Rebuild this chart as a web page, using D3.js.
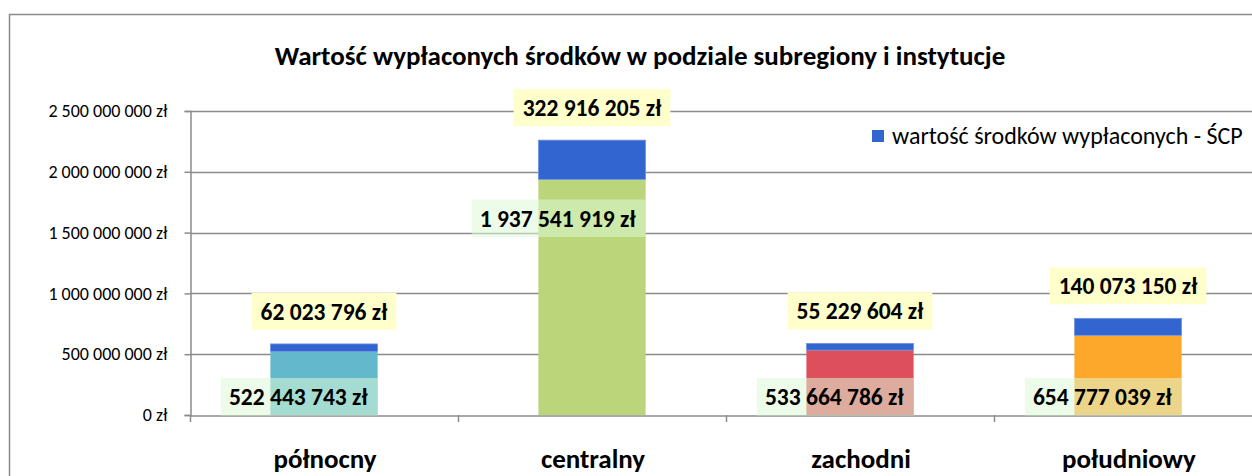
<!DOCTYPE html>
<html><head><meta charset="utf-8">
<script src="https://cdn.jsdelivr.net/npm/d3@7/dist/d3.min.js"></script>
<style>
html,body{margin:0;padding:0;background:#fff;}
svg{display:block;font-family:Carlito,Lato,"Liberation Sans",sans-serif;}
</style></head>
<body>
<svg id="chart" width="1252" height="476"></svg>
<script>
const title = "Wartość wypłaconych środków w podziale subregiony i instytucje";
const categories = ["północny", "centralny", "zachodni", "południowy"];
const baseValues = [522443743, 1937541919, 533664786, 654777039];
const scpValues = [62023796, 322916205, 55229604, 140073150];
const legendLabel = "wartość środków wypłaconych - ŚCP";
const yTicks = [0, 500000000, 1000000000, 1500000000, 2000000000, 2500000000];
const baseColors = ["#63b8cc", "#bbd57a", "#dd4f5c", "#fea82b"];
const scpColor = "#3265cf";
// where the (manually placed) base labels sit, as a value on the y axis (box centre)
const baseLabelAt = [150000000, 1620000000, 150000000, 145000000];

const fmt = v => {
  const s = String(Math.round(v));
  return s.replace(/\B(?=(\d{3})+(?!\d))/g, " ") + " zł";
};

const svg = d3.select("#chart");
const m = {left: 190};
const plotRight = 1262;

// outer frame
svg.append("rect").attr("x", 9.5).attr("y", 14.5).attr("width", 1300).attr("height", 600)
  .attr("fill", "none").attr("stroke", "#8c8c8c").attr("stroke-width", 1.5);

const x = d3.scaleBand().domain(categories).range([m.left, plotRight]).paddingInner(0.6).paddingOuter(0.3);
const xCat = d3.scaleBand().domain(categories).range([m.left, plotRight]);
const y = d3.scaleLinear().domain([0, 2500000000]).range([415, 111]);

// gridlines
svg.append("g").selectAll("line").data(yTicks.slice(1)).join("line")
  .attr("x1", m.left).attr("x2", plotRight)
  .attr("y1", d => Math.round(y(d)) + 0.5).attr("y2", d => Math.round(y(d)) + 0.5)
  .attr("stroke", "#8c8c8c").attr("stroke-width", 1.5);

// y axis
const yAxis = d3.axisLeft(y).tickValues(yTicks).tickSize(6).tickPadding(17).tickFormat(fmt);
const gy = svg.append("g").attr("transform", `translate(${m.left + 0.5},0)`).call(yAxis);
gy.select(".domain").attr("stroke", "#8c8c8c").attr("stroke-width", 1.5);
gy.selectAll(".tick line").attr("stroke", "#8c8c8c").attr("stroke-width", 1.5);
gy.selectAll(".tick text").attr("font-size", 18).attr("fill", "#000")
  .attr("font-family", "Carlito,Lato,sans-serif");

// bars
const gb = svg.append("g");
categories.forEach((c, i) => {
  const x0 = x(c), bw = x.bandwidth();
  gb.append("rect").attr("x", x0).attr("width", bw)
    .attr("y", y(baseValues[i])).attr("height", y(0) - y(baseValues[i]))
    .attr("fill", baseColors[i]);
  gb.append("rect").attr("x", x0).attr("width", bw)
    .attr("y", y(baseValues[i] + scpValues[i])).attr("height", y(baseValues[i]) - y(baseValues[i] + scpValues[i]))
    .attr("fill", scpColor).attr("stroke", "#7196e4").attr("stroke-width", 0.8);
});

// x axis
const xAxis = d3.axisBottom(xCat).tickSize(0).tickFormat("");
const gx = svg.append("g").attr("transform", "translate(0,415.5)").call(xAxis);
gx.select(".domain").attr("stroke", "#8c8c8c").attr("stroke-width", 1.5);
const bounds = categories.map(c => xCat(c));
svg.append("g").selectAll("line").data(bounds).join("line")
  .attr("x1", d => d + 0.5).attr("x2", d => d + 0.5).attr("y1", 415).attr("y2", 422)
  .attr("stroke", "#8c8c8c").attr("stroke-width", 1.5);
svg.append("g").selectAll("text").data(categories).join("text")
  .attr("x", d => xCat(d) + xCat.bandwidth() / 2 + 1).attr("y", 468)
  .attr("text-anchor", "middle").attr("font-size", 27).attr("font-weight", "bold")
  .text(d => d);

// labels
const gl = svg.append("g");
categories.forEach((c, i) => {
  const x0 = x(c), bw = x.bandwidth();
  const tTop = fmt(scpValues[i]);
  const topY = y(baseValues[i] + scpValues[i]) - 14;
  const tt = gl.append("text").attr("font-size", 23.5).attr("font-weight", "bold")
    .attr("text-anchor", "middle").attr("x", x0 + bw / 2).attr("y", topY - 10).text(tTop);
  const tw = tt.node().getComputedTextLength();
  gl.insert("rect", () => tt.node()).attr("x", x0 + bw / 2 - tw / 2 - 9).attr("width", tw + 18)
    .attr("y", topY - 37).attr("height", 37).attr("fill", "#ffffcc");
  const tBase = fmt(baseValues[i]);
  const cy = Math.min(y(baseLabelAt[i]), 396.5);
  const tb = gl.append("text").attr("font-size", 23.5).attr("font-weight", "bold")
    .attr("text-anchor", "end").attr("x", x0 + bw - 10).attr("y", cy + 8.5).text(tBase);
  const bw2 = tb.node().getComputedTextLength();
  gl.insert("rect", () => tb.node()).attr("x", x0 + bw - bw2 - 18).attr("width", bw2 + 18)
    .attr("y", cy - 18.5).attr("height", 37.5).attr("fill", "#dcfad6").attr("fill-opacity", 0.55);
});

// title
svg.append("text").attr("x", 640).attr("y", 65).attr("text-anchor", "middle")
  .attr("font-size", 27).attr("font-weight", "bold").text(title);

// legend
svg.append("rect").attr("x", 872).attr("y", 130).attr("width", 12).attr("height", 12).attr("fill", scpColor);
svg.append("text").attr("x", 892).attr("y", 144).attr("font-size", 24).text(legendLabel);
</script>
</body></html>
